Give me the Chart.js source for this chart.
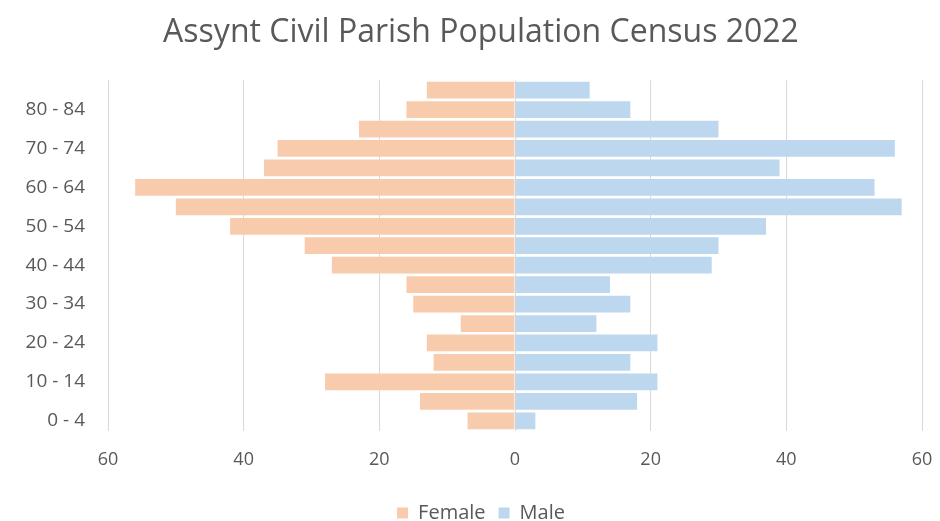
<!DOCTYPE html>
<html>
<head>
<meta charset="utf-8">
<script src="https://cdn.jsdelivr.net/npm/chart.js@4.4.0/dist/chart.umd.min.js"></script>
<style>
  html, body { margin: 0; padding: 0; background: #fff; }
  #wrap { width: 940px; height: 521px; }
</style>
</head>
<body>
<div id="wrap"><canvas id="pyramid" width="940" height="521"></canvas></div>
<script>
// age groups, youngest first
var ageGroups = [
    "0 - 4", "5 - 9", "10 - 14", "15 - 19", "20 - 24", "25 - 29",
    "30 - 34", "35 - 39", "40 - 44", "45 - 49", "50 - 54", "55 - 59",
    "60 - 64", "65 - 69", "70 - 74", "75 - 79", "80 - 84", "85+"
];
var female = [7, 14, 28, 12, 13, 8, 15, 16, 27, 31, 42, 50, 56, 37, 35, 23, 16, 13];
var male   = [3, 18, 21, 17, 21, 12, 17, 14, 29, 30, 37, 57, 53, 39, 56, 30, 17, 11];
var xTicks = [-60, -40, -20, 0, 20, 40, 60];

var textGrey = "#595959";
var ctx = document.getElementById("pyramid");
var myChart = new Chart(ctx, {
    type: 'bar',
    data: {
        labels: ageGroups,
        datasets: [{
            label: "Female",
            data: female.map(function (v) { return -v; }),
            backgroundColor: "#F8CBAD",
            borderWidth: 0
        }, {
            label: "Male",
            data: male,
            backgroundColor: "#BDD7EE",
            borderWidth: 0
        }]
    },
    options: {
        responsive: false,
        animation: false,
        indexAxis: 'y',
        layout: { padding: { left: 22, right: 0, top: 0, bottom: -12 } },
        datasets: { bar: { barPercentage: 0.86, categoryPercentage: 1.0 } },
        scales: {
            x: {
                stacked: true,
                min: -60,
                max: 60,
                afterBuildTicks: function (axis) {
                    axis.ticks = xTicks.map(function (v) { return { value: v }; });
                },
                afterFit: function (axis) {
                    axis.paddingLeft = 0;
                    axis.paddingRight = 18;
                },
                grid: { color: "#d9d9d9", drawTicks: false },
                border: { display: false },
                ticks: {
                    color: textGrey,
                    font: { family: "Open Sans", size: 18, lineHeight: 0.75 },
                    padding: 23,
                    callback: function (v) { return Math.abs(v); }
                }
            },
            y: {
                stacked: true,
                reverse: true,
                afterFit: function (axis) { axis.width = 86; },
                grid: { display: false, drawTicks: false },
                border: { display: false },
                ticks: {
                    autoSkip: false,
                    color: textGrey,
                    font: { family: "Open Sans", size: 19 },
                    padding: 23,
                    callback: function (v, i) { return i % 2 === 0 ? ageGroups[i] : ""; }
                }
            }
        },
        plugins: {
            title: {
                display: true,
                text: "Assynt Civil Parish Population Census 2022",
                color: textGrey,
                font: { family: "Open Sans", size: 32, weight: 'normal' },
                padding: { top: 14, bottom: 28 }
            },
            legend: {
                position: 'bottom',
                labels: {
                    color: textGrey,
                    font: { family: "Open Sans", size: 20 },
                    boxWidth: 11,
                    boxHeight: 11,
                    padding: 13
                }
            },
            tooltip: { enabled: false }
        }
    }
});
</script>
</body>
</html>
